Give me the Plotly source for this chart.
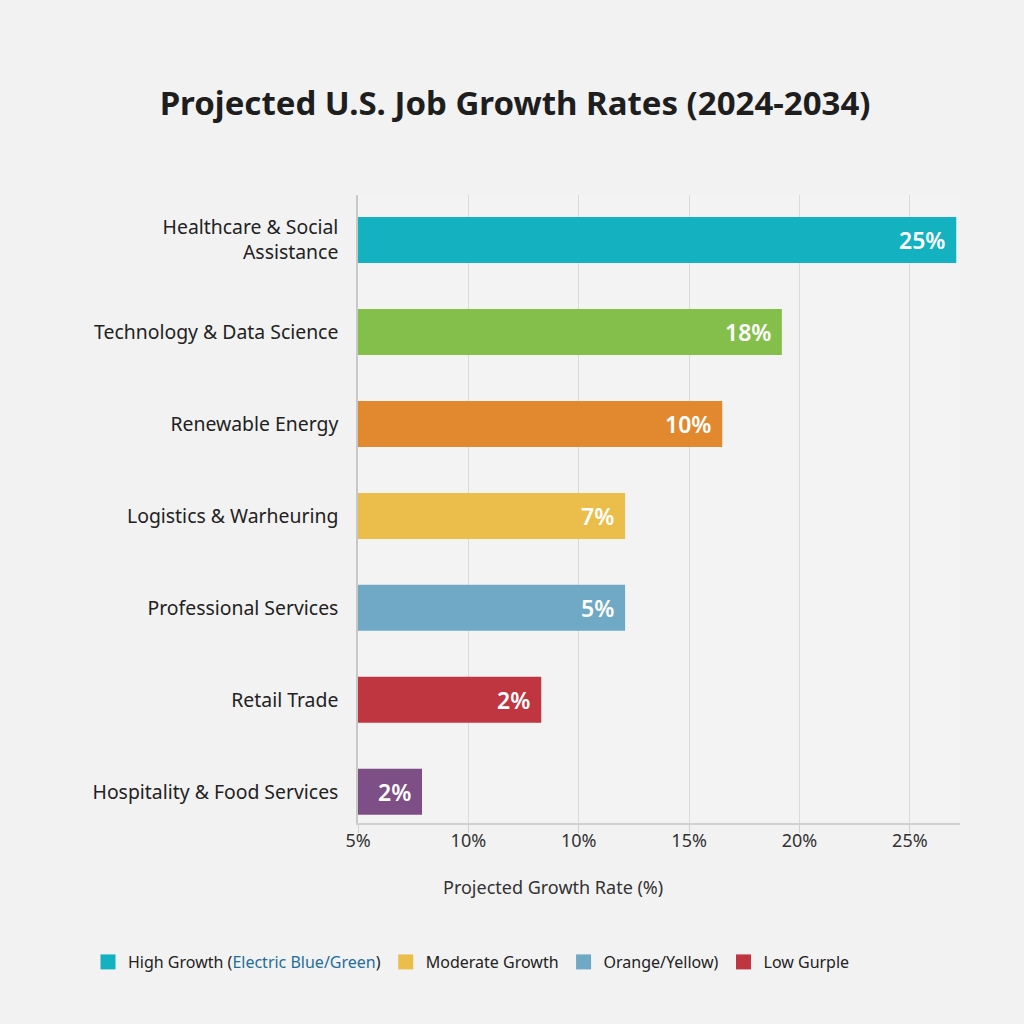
import plotly.graph_objects as go

categories = [
    "Healthcare & Social<br>Assistance",
    "Technology & Data Science",
    "Renewable Energy",
    "Logistics & Warheuring",
    "Professional Services",
    "Retail Trade",
    "Hospitality & Food Services",
]
# bar lengths read on the drawn axis scale (tick positions 5..30)
bar_lengths = [32.1, 24.2, 21.5, 17.1, 17.1, 13.3, 7.9]
bar_labels = ["25%", "18%", "10%", "7%", "5%", "2%", "2%"]
bar_colors = ["#14b2c1", "#84bf4b", "#e2892f", "#ebbd4b", "#6fa9c5", "#bf3540", "#7e4e86"]

tick_vals = [5, 10, 15, 20, 25, 30]
tick_text = ["5%", "10%", "10%", "15%", "20%", "25%"]

legend_names = [
    'High Growth (<span style="color:#1f6e9c">Electric Blue/Green</span>)',
    "Moderate Growth",
    "Orange/Yellow)",
    "Low Gurple",
]
legend_colors = ["#14b2c1", "#ebbd4b", "#6fa9c5", "#bf3540"]

FONT = "Noto Sans"
y_pos = list(range(len(categories)))

fig = go.Figure()
fig.add_trace(go.Bar(
    x=bar_lengths, y=y_pos, orientation="h",
    marker=dict(color=bar_colors, line=dict(width=0)),
    width=0.5, showlegend=False, hoverinfo="skip",
))

for name, col in zip(legend_names, legend_colors):
    fig.add_trace(go.Scatter(
        x=[None], y=[None], mode="markers", name=name,
        marker=dict(symbol="square", size=15, color=col),
    ))

for yv, xv, lab in zip(y_pos, bar_lengths, bar_labels):
    fig.add_annotation(
        x=xv, y=yv, text=lab, showarrow=False, xanchor="right", xshift=-9,
        font=dict(family=FONT, size=23, color="white", weight=600),
    )

fig.add_annotation(
    xref="paper", yref="paper", x=0.324, y=-0.102, text="Projected Growth Rate (%)",
    showarrow=False, font=dict(family=FONT, size=18, color="#333333"),
    xanchor="center", yanchor="middle",
)

fig.update_layout(
    width=1024, height=1024,
    margin=dict(l=358, r=64, t=195, b=201),
    paper_bgcolor="#f2f2f2", plot_bgcolor="#f3f3f3",
    title=dict(
        text="Projected U.S. Job Growth Rates (2024-2034)",
        x=0.503, xanchor="center", y=1 - 103 / 1024, yanchor="middle", yref="container",
        font=dict(family=FONT, size=33, color="#1e1e1e", weight="bold"),
    ),
    xaxis=dict(
        range=[5, 32.27], tickvals=tick_vals, ticktext=tick_text,
        showgrid=True, gridcolor="#dadada", gridwidth=1,
        showline=True, linecolor="#d0d0d0", linewidth=1.5,
        ticks="outside", ticklen=8, tickcolor="#d0d0d0",
        ticklabelstandoff=-7,
        tickfont=dict(family=FONT, size=18, color="#333333"),
        zeroline=False, fixedrange=True,
    ),
    yaxis=dict(
        range=[6.34, -0.49], tickvals=y_pos, ticktext=categories,
        showgrid=False, showline=True, linecolor="#c8c8c8", linewidth=1.5,
        ticks="", ticklabelstandoff=14,
        tickfont=dict(family=FONT, size=19.4, color="#222222"),
        zeroline=False,
    ),
    legend=dict(
        orientation="h", x=(88 - 358) / 602, xanchor="left",
        y=-(962 - 823) / 628, yanchor="middle",
        font=dict(family=FONT, size=16, color="#222222"),
        bgcolor="rgba(0,0,0,0)",
    ),
    bargap=0.5,
)

fig.write_html("out.html")
